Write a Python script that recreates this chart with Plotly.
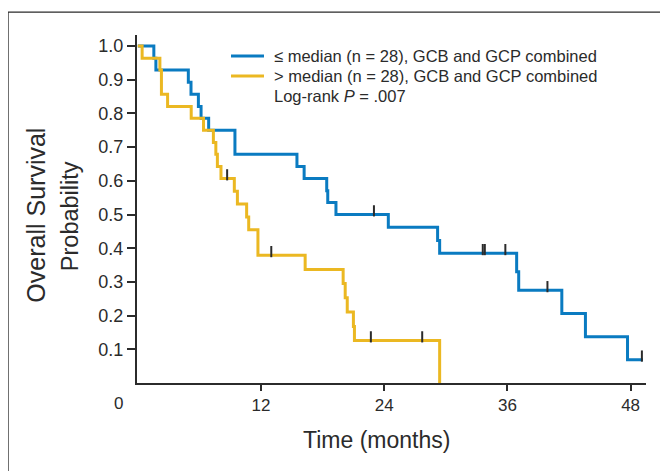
import plotly.graph_objects as go

# ---- data ----
low_times = [0, 1.56, 1.76, 4.92, 5.18, 5.9, 6.16, 6.9, 9.46, 15.5, 16.2, 18.4, 18.5, 19.3,
             24.4, 29.2, 29.4, 36.9, 37.1, 41.3, 43.6, 47.7, 49.2]
low_surv = [1.0, 0.964, 0.929, 0.893, 0.857, 0.821, 0.786, 0.75, 0.679, 0.643, 0.607, 0.571,
            0.536, 0.5, 0.462, 0.423, 0.385, 0.33, 0.275, 0.206, 0.137, 0.069, 0.069]
low_cens_t = [23.0, 33.6, 33.8, 35.8, 39.9, 49.1]
low_cens_s = [0.5, 0.385, 0.385, 0.385, 0.275, 0.069]

high_times = [0, 0.42, 2.15, 2.3, 2.9, 5.2, 6.4, 7.36, 7.6, 7.75, 8.1, 9.4, 9.7, 10.6, 10.8,
              11.7, 16.3, 20.0, 20.2, 20.4, 21.0, 21.1, 29.4]
high_surv = [1.0, 0.964, 0.929, 0.857, 0.821, 0.786, 0.75, 0.714, 0.679, 0.643, 0.607, 0.569,
             0.531, 0.493, 0.455, 0.379, 0.337, 0.295, 0.253, 0.211, 0.168, 0.126, 0.0]
high_cens_t = [8.7, 13.0, 22.7, 27.7]
high_cens_s = [0.607, 0.379, 0.126, 0.126]

x_ticks = [12, 24, 36, 48]
y_ticks = [0.1, 0.2, 0.3, 0.4, 0.5, 0.6, 0.7, 0.8, 0.9, 1.0]

legend_texts = ["≤ median (n = 28), GCB and GCP combined",
                "> median (n = 28), GCB and GCP combined",
                "Log-rank <i>P</i> = .007"]

BLUE = "#0A7BC1"
YELLOW = "#EBB822"
DARK = "#2b2b2b"
FONT = "Liberation Sans, Arial, sans-serif"
TICK_OFF = 0.011

fig = go.Figure()
fig.add_trace(go.Scatter(x=low_times, y=low_surv, mode="lines", line_shape="hv",
                         line=dict(color=BLUE, width=3), name=legend_texts[0]))
fig.add_trace(go.Scatter(x=high_times, y=high_surv, mode="lines", line_shape="hv",
                         line=dict(color=YELLOW, width=3), name=legend_texts[1]))
for ct, cs in ((low_cens_t, low_cens_s), (high_cens_t, high_cens_s)):
    fig.add_trace(go.Scatter(x=ct, y=[s + TICK_OFF for s in cs], mode="markers",
                             marker=dict(symbol="line-ns", size=8,
                                         line=dict(color=DARK, width=2)),
                             showlegend=False, hoverinfo="skip"))

fig.update_layout(
    width=668, height=471,
    margin=dict(l=129, r=30, t=27, b=96),
    paper_bgcolor="white", plot_bgcolor="white",
    font=dict(family=FONT, color=DARK),
    showlegend=False,
)
fig.update_xaxes(range=[-0.08, 49.5], tickvals=x_ticks, ticktext=[str(v) for v in x_ticks],
                 showgrid=False, zeroline=False, showline=True, linecolor=DARK, linewidth=2,
                 ticks="outside", ticklen=6, tickwidth=1.5, tickcolor=DARK,
                 tickfont=dict(size=17, color=DARK))
fig.update_yaxes(range=[0, 1.033], tickvals=y_ticks, ticktext=[f"{v:.1f}" for v in y_ticks],
                 showgrid=False, zeroline=False, showline=True, linecolor=DARK, linewidth=2,
                 ticks="outside", ticklen=8, tickwidth=1.5, tickcolor=DARK,
                 tickfont=dict(size=18, color=DARK))

# legend (drawn manually for exact row spacing)
legend_rows_y = [0.9397, 0.8822, 0.8247]
legend_colors = [BLUE, YELLOW, None]
for txt, yy, col in zip(legend_texts, legend_rows_y, legend_colors):
    if col:
        fig.add_shape(type="line", xref="paper", yref="paper", x0=0.1847, x1=0.2495,
                      y0=yy, y1=yy, line=dict(color=col, width=3))
    fig.add_annotation(text=txt, xref="paper", yref="paper", x=0.2652, y=yy,
                       xanchor="left", yanchor="middle", showarrow=False,
                       font=dict(size=16.5, color=DARK))

fig.add_annotation(text="0", xref="paper", yref="paper", x=-0.0373, y=-0.0575,
                   xanchor="center", yanchor="middle", showarrow=False,
                   font=dict(size=17, color=DARK))
fig.add_annotation(text="Time (months)", xref="paper", yref="paper", x=0.4715, y=-0.164,
                   xanchor="center", yanchor="middle", showarrow=False,
                   font=dict(size=23, color=DARK))
fig.add_annotation(text="Overall Survival", xref="paper", yref="paper",
                   x=-0.199, y=0.483, xanchor="center", yanchor="middle", textangle=-90,
                   showarrow=False, font=dict(size=25, color=DARK))
fig.add_annotation(text="Probability", xref="paper", yref="paper",
                   x=-0.1326, y=0.478, xanchor="center", yanchor="middle", textangle=-90,
                   showarrow=False, font=dict(size=23.5, color=DARK))
fig.add_shape(type="rect", xref="paper", yref="paper", x0=-0.2534, x1=1.06, y0=-0.3, y1=1.066,
              line=dict(color=DARK, width=1.3), fillcolor="rgba(0,0,0,0)", layer="below")

fig.write_html("out.html")
